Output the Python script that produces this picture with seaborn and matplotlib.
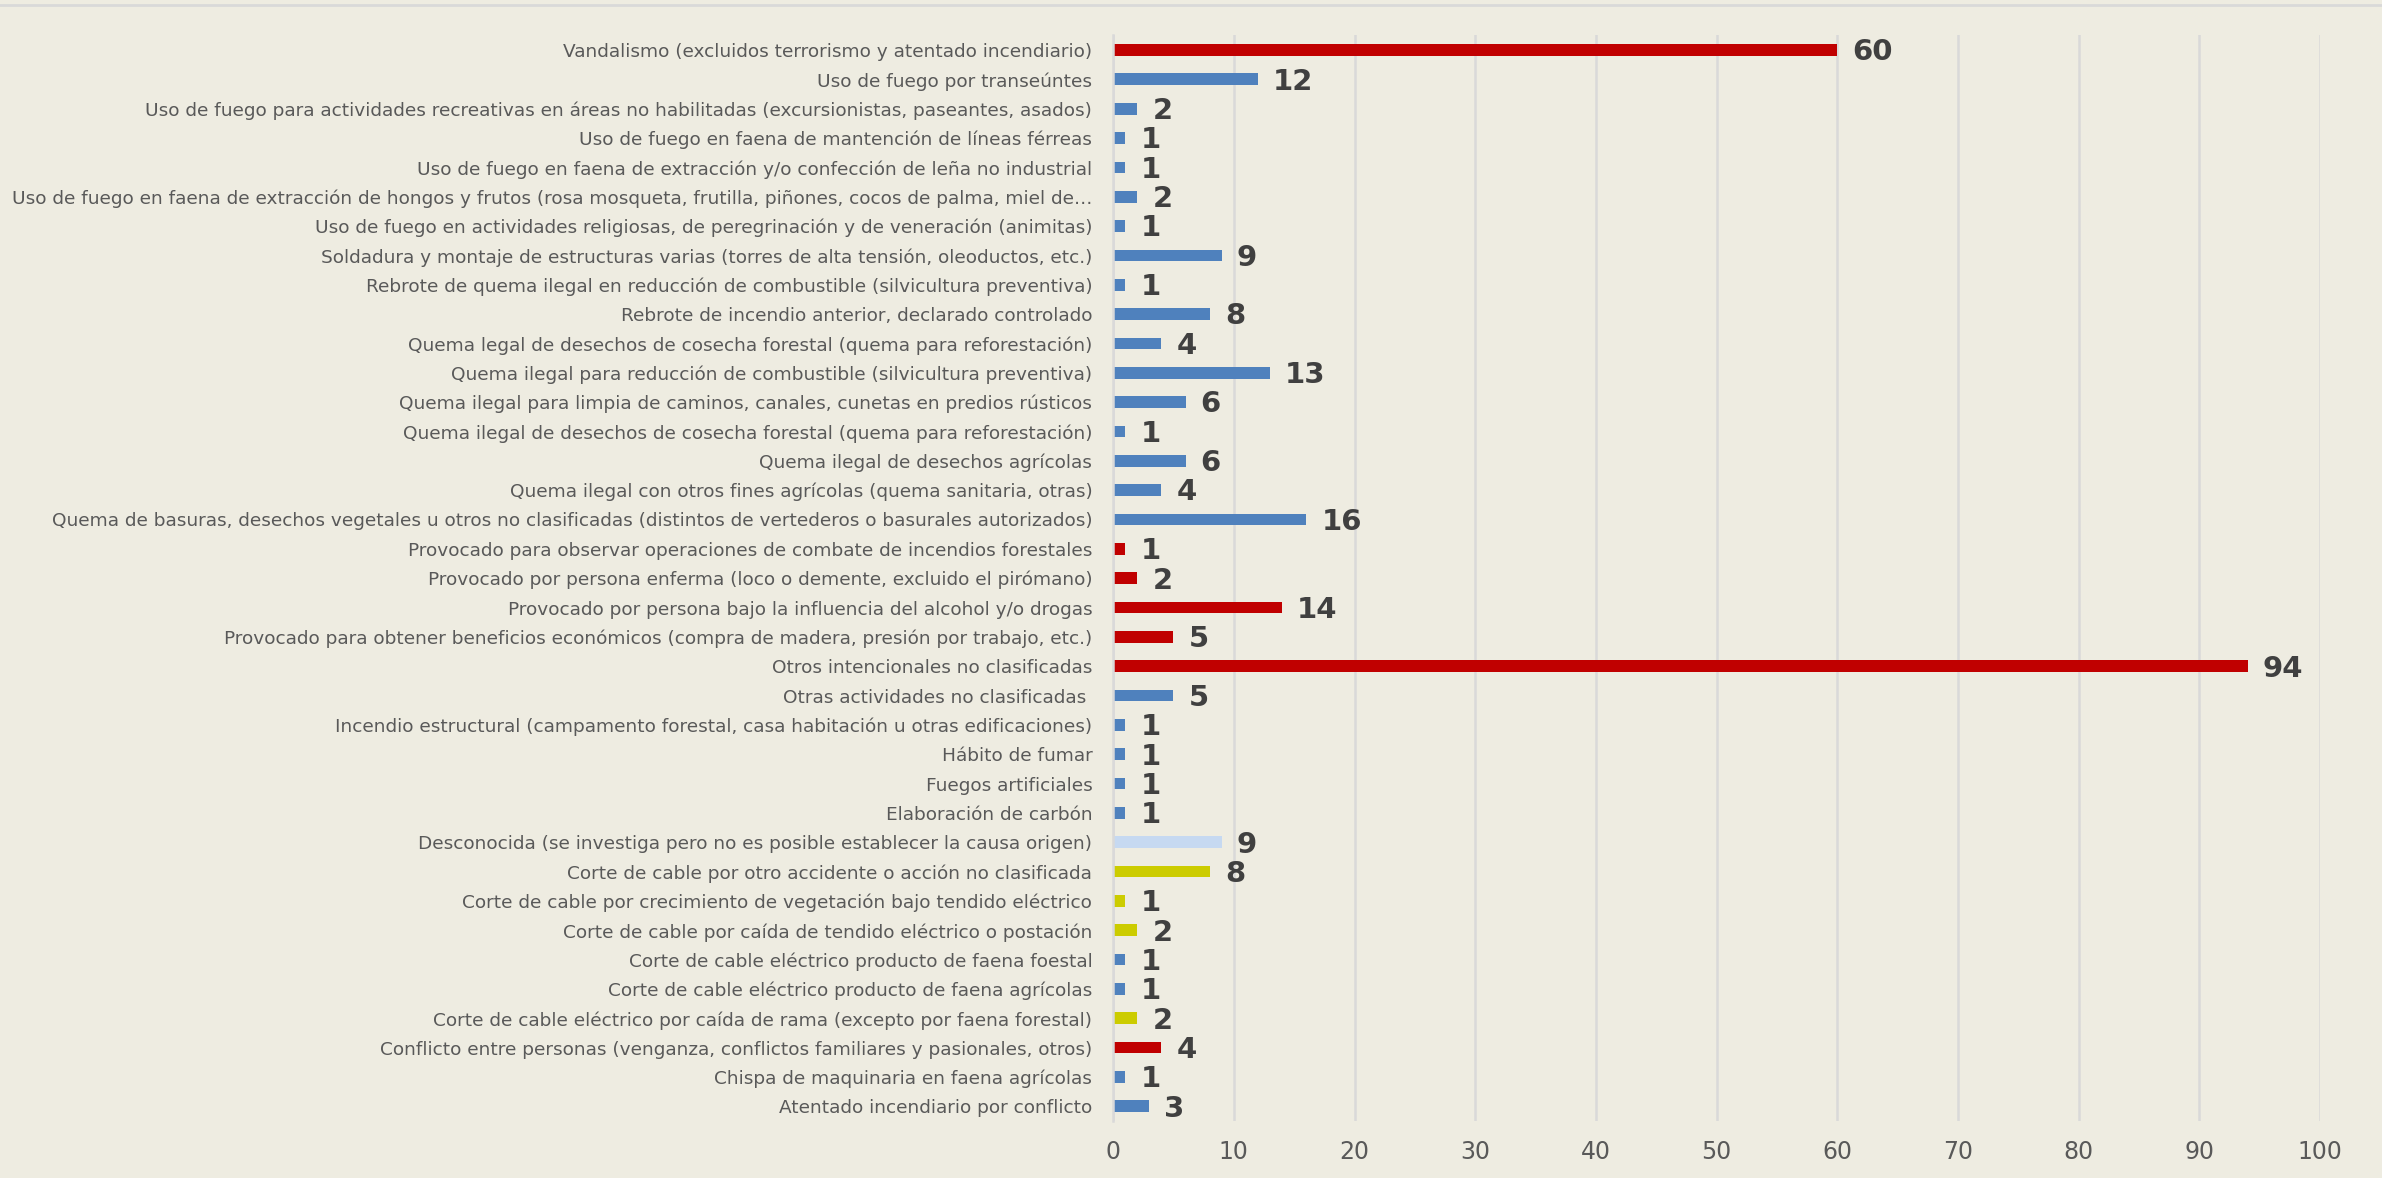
import numpy as np
import pandas as pd
import matplotlib
matplotlib.use("Agg")
import matplotlib.pyplot as plt
import seaborn as sns
from matplotlib.lines import Line2D

causes = [
    "Vandalismo (excluidos terrorismo y atentado incendiario)",
    "Uso de fuego por transeúntes",
    "Uso de fuego para actividades recreativas en áreas no habilitadas (excursionistas, paseantes, asados)",
    "Uso de fuego en faena de mantención de líneas férreas",
    "Uso de fuego en faena de extracción y/o confección de leña no industrial",
    "Uso de fuego en faena de extracción de hongos y frutos (rosa mosqueta, frutilla, piñones, cocos de palma, miel de…",
    "Uso de fuego en actividades religiosas, de peregrinación y de veneración (animitas)",
    "Soldadura y montaje de estructuras varias (torres de alta tensión, oleoductos, etc.)",
    "Rebrote de quema ilegal en reducción de combustible (silvicultura preventiva)",
    "Rebrote de incendio anterior, declarado controlado",
    "Quema legal de desechos de cosecha forestal (quema para reforestación)",
    "Quema ilegal para reducción de combustible (silvicultura preventiva)",
    "Quema ilegal para limpia de caminos, canales, cunetas en predios rústicos",
    "Quema ilegal de desechos de cosecha forestal (quema para reforestación)",
    "Quema ilegal de desechos agrícolas",
    "Quema ilegal con otros fines agrícolas (quema sanitaria, otras)",
    "Quema de basuras, desechos vegetales u otros no clasificadas (distintos de vertederos o basurales autorizados)",
    "Provocado para observar operaciones de combate de incendios forestales",
    "Provocado por persona enferma (loco o demente, excluido el pirómano)",
    "Provocado por persona bajo la influencia del alcohol y/o drogas",
    "Provocado para obtener beneficios económicos (compra de madera, presión por trabajo, etc.)",
    "Otros intencionales no clasificadas",
    "Otras actividades no clasificadas ",
    "Incendio estructural (campamento forestal, casa habitación u otras edificaciones)",
    "Hábito de fumar",
    "Fuegos artificiales",
    "Elaboración de carbón",
    "Desconocida (se investiga pero no es posible establecer la causa origen)",
    "Corte de cable por otro accidente o acción no clasificada",
    "Corte de cable por crecimiento de vegetación bajo tendido eléctrico",
    "Corte de cable por caída de tendido eléctrico o postación",
    "Corte de cable eléctrico producto de faena foestal",
    "Corte de cable eléctrico producto de faena agrícolas",
    "Corte de cable eléctrico por caída de rama (excepto por faena forestal)",
    "Conflicto entre personas (venganza, conflictos familiares y pasionales, otros)",
    "Chispa de maquinaria en faena agrícolas",
    "Atentado incendiario por conflicto",
]

counts = [60, 12, 2, 1, 1, 2, 1, 9, 1, 8, 4, 13, 6, 1, 6, 4, 16, 1, 2, 14, 5, 94,
          5, 1, 1, 1, 1, 9, 8, 1, 2, 1, 1, 2, 4, 1, 3]

groups = ["intencional", "accidental", "accidental", "accidental", "accidental",
          "accidental", "accidental", "accidental", "accidental", "accidental",
          "accidental", "accidental", "accidental", "accidental", "accidental",
          "accidental", "accidental", "intencional", "intencional", "intencional",
          "intencional", "intencional", "accidental", "accidental", "accidental",
          "accidental", "accidental", "desconocida", "electrico", "electrico",
          "electrico", "accidental", "accidental", "electrico", "intencional",
          "accidental", "accidental"]

group_colors = {
    "intencional": "#C00000",
    "accidental": "#4F81BD",
    "desconocida": "#C6D9F1",
    "electrico": "#CCCC00",
}

bg = "#EEECE1"
df = pd.DataFrame({"causa": causes, "n": counts, "grupo": groups})

fig = plt.figure(figsize=(23.82, 11.78), dpi=100, facecolor=bg)
ax = fig.add_axes([0.4673, 0.0484, 0.5067, 0.9216])
ax.set_facecolor(bg)

sns.barplot(data=df, x="n", y="causa", hue="grupo", palette=group_colors,
            dodge=False, width=0.4, legend=False, ax=ax, orient="h",
            edgecolor="none", saturation=1)

ax.set_xlim(0, 100)
ax.set_xticks(np.arange(0, 101, 10))
ax.grid(axis="x", color="#D9D9D9", linewidth=1.8)
ax.grid(axis="y", visible=False)
ax.set_axisbelow(True)
for s in ["top", "right", "bottom"]:
    ax.spines[s].set_visible(False)
ax.spines["left"].set_color("#D9D9D9")
ax.spines["left"].set_linewidth(1.8)
ax.tick_params(axis="both", length=0)
ax.tick_params(axis="y", labelsize=13.3, labelcolor="#595959", pad=15)
ax.tick_params(axis="x", labelsize=17, labelcolor="#595959", pad=14)
ax.set_xlabel("")
ax.set_ylabel("")

# etiquetas de datos
for i, v in enumerate(counts):
    ax.text(v + 1.25, i + 0.08, str(v), va="center", ha="left", fontsize=21,
            fontweight="bold", color="#404040")

fig.add_artist(Line2D([0, 1], [0.9955, 0.9955], transform=fig.transFigure,
                      color="#D9D9D9", linewidth=2))

fig.savefig("out.png", dpi=100, facecolor=bg)
